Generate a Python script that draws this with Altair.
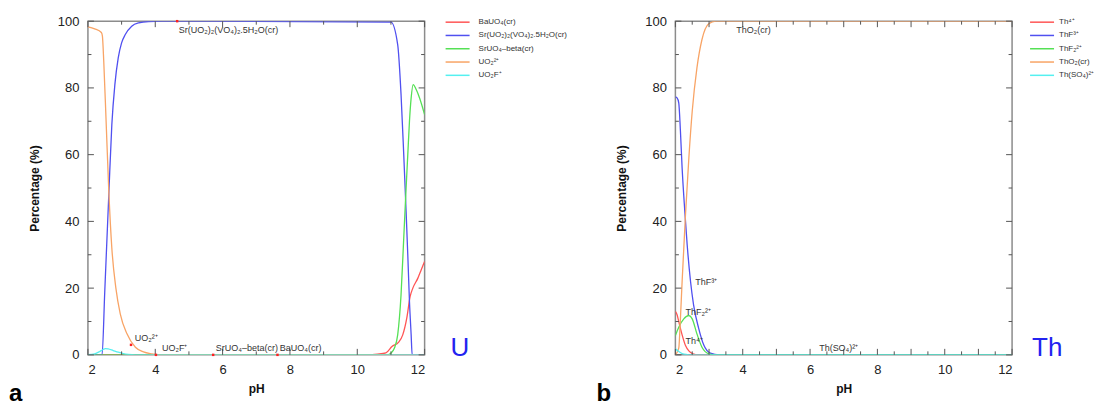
import altair as alt
import pandas as pd

FONT = "Liberation Sans"
W, H = 337, 334

# ---------------- Panel a : U ----------------
a_species = ["BaUO₄(cr)", "Sr(UO₂)₂(VO₄)₂.5H₂O(cr)", "SrUO₄–beta(cr)", "UO₂²⁺", "UO₂F⁺"]
a_colors = ["#ff5555", "#5050f0", "#55e055", "#f8a466", "#55f0f0"]

a_ph_ba = [2.0, 10.3, 10.6, 10.85, 11.03, 11.23, 11.35, 11.47, 11.57, 11.65, 11.8, 11.9, 12.0]
a_val_ba = [0, 0, 0.2, 0.6, 2.5, 3.8, 6.0, 11.0, 17.5, 20.0, 23.0, 25.5, 28.0]

a_ph_sr = [2.0, 2.42, 2.5, 2.62, 2.71, 2.8, 2.9, 3.0, 3.11, 3.3, 3.51, 3.8, 4.2, 11.0, 11.2, 11.3,
           11.38, 11.45, 11.5, 11.55, 11.6, 11.63, 12.0]
a_val_sr = [0, 0, 19, 48, 69, 81, 89, 93.5, 96, 98.5, 99.5, 99.9, 100, 99.7, 93, 78,
            60, 43, 30, 16, 6, 0, 0]

a_ph_sruo4 = [2.0, 10.9, 11.0, 11.1, 11.2, 11.3, 11.38, 11.45, 11.5, 11.55, 11.6, 11.66, 11.75, 11.85, 12.0]
a_val_sruo4 = [0, 0, 0.5, 2, 6, 18, 35, 50, 60, 70, 77, 81, 79.5, 77, 72]

a_ph_uo2 = [2.0, 2.2, 2.4, 2.43, 2.47, 2.54, 2.62, 2.71, 2.83, 2.96, 3.16, 3.41, 3.65, 3.9, 4.1, 12.0]
a_val_uo2 = [98.3, 97.7, 96.6, 95.5, 88, 70, 49, 32, 20, 12.3, 6.3, 2.3, 0.9, 0.3, 0, 0]

a_ph_uo2f = [2.0, 2.2, 2.35, 2.45, 2.52, 2.6, 2.75, 2.9, 3.05, 3.2, 3.4, 12.0]
a_val_uo2f = [0.05, 0.3, 1.0, 1.6, 1.9, 1.8, 1.3, 0.8, 0.4, 0.15, 0, 0]

a_lab_text = ["Sr(UO₂)₂(VO₄)₂.5H₂O(cr)", "UO₂²⁺", "UO₂F⁺", "SrUO₄–beta(cr)", "BaUO₄(cr)"]
a_lab_ph = [4.70, 3.39, 4.20, 5.80, 7.70]
a_lab_pct = [97.3, 5.2, 2.2, 2.2, 2.2]
a_dot_ph = [4.65, 3.28, 4.02, 5.72, 7.63]
a_dot_pct = [100, 3, 0, 0, 0]

a_xmajor = [2, 4, 6, 8, 10, 12]
a_xminor = [3, 5, 7, 9, 11]

# ---------------- Panel b : Th ----------------
b_species = ["Th⁴⁺", "ThF³⁺", "ThF₂²⁺", "ThO₂(cr)", "Th(SO₄)²⁺"]
b_colors = ["#ff5555", "#5050f0", "#55e055", "#f8a466", "#55f0f0"]

b_ph_th = [2.0, 2.05, 2.1, 2.2, 2.3, 2.4, 2.5, 2.6, 2.8, 12.0]
b_val_th = [13, 12, 10, 6, 2.8, 1.2, 0.4, 0.1, 0, 0]

b_ph_thf = [2.0, 2.05, 2.1, 2.15, 2.2, 2.28, 2.35, 2.45, 2.54, 2.69, 2.84, 3.04, 3.3, 12.0]
b_val_thf = [77.3, 77, 75.5, 67, 56, 43, 33, 22, 15, 8, 3, 0.5, 0, 0]

b_ph_thf2 = [2.0, 2.1, 2.25, 2.4, 2.5, 2.64, 2.79, 3.0, 3.2, 12.0]
b_val_thf2 = [5.8, 8.3, 10.8, 11.8, 10.8, 6.3, 2.3, 0.3, 0, 0]

b_ph_tho2 = [2.0, 2.1, 2.15, 2.2, 2.25, 2.3, 2.4, 2.5, 2.64, 2.79, 2.99, 3.2, 12.0]
b_val_tho2 = [0, 2, 11, 22, 32, 42, 59, 73, 86, 94.5, 99.2, 100, 100]

b_ph_thso4 = [2.0, 2.1, 2.2, 2.35, 2.5, 12.0]
b_val_thso4 = [1.8, 1.0, 0.4, 0.1, 0, 0]

b_lab_text = ["ThO₂(cr)", "ThF³⁺", "ThF₂²⁺", "Th⁴⁺", "Th(SO₄)²⁺"]
b_lab_ph = [3.81, 2.59, 2.30, 2.30, 6.27]
b_lab_pct = [97.3, 21.8, 12.8, 4.2, 2.2]

b_xmajor = [2, 3, 4, 5, 6, 7, 8, 9, 10, 11, 12]
b_xminor = [2.5, 3.5, 4.5, 5.5, 6.5, 7.5, 8.5, 9.5, 10.5, 11.5]

y_major = [0, 20, 40, 60, 80, 100]
y_minor = [10, 30, 50, 70, 90]

X0, X1, Y0, Y1 = 2, 12, 0, 100
MAJ_PX, MIN_PX = 6, 3.5
SYM = 144  # legend symbol size (sqrt = 12 px), path spans 2x that


def long_df(species, phs, vals):
    rows = []
    for i, (s, p, v) in enumerate(zip(species, phs, vals)):
        for x, y in zip(p, v):
            rows.append({"species": s, "pH": x, "pct": y, "ord": i})
    return pd.DataFrame(rows)


def tick_frames(xmajor, xminor):
    """Inside tick segments on all four sides (lengths converted from px to data units)."""
    xr = (X1 - X0) / W
    yr = (Y1 - Y0) / H
    rows = []
    for vals, L in ((xmajor, MAJ_PX), (xminor, MIN_PX)):
        for t in vals:
            rows.append({"x": t, "x2": t, "y": Y0, "y2": Y0 + L * yr})
            rows.append({"x": t, "x2": t, "y": Y1, "y2": Y1 - L * yr})
    for vals, L in ((y_major, MAJ_PX), (y_minor, MIN_PX)):
        for t in vals:
            rows.append({"x": X0, "x2": X0 + L * xr, "y": t, "y2": t})
            rows.append({"x": X1, "x2": X1 - L * xr, "y": t, "y2": t})
    return pd.DataFrame(rows)


def panel(df, species, colors, xmajor, xminor, lab_text, lab_ph, lab_pct,
          dot_ph, dot_pct, elem, elem_dx, tag, sym_dx, lab_off):
    xs = alt.Scale(domain=[X0, X1], nice=False, zero=False)
    ys = alt.Scale(domain=[Y0, Y1], nice=False, zero=False)
    lines = alt.Chart(df).mark_line(strokeWidth=1.3, interpolate="monotone", clip=True).encode(
        x=alt.X("pH:Q", scale=xs, title="pH",
                axis=alt.Axis(values=xmajor, format="d", labelPadding=9, titlePadding=7)),
        y=alt.Y("pct:Q", scale=ys, title="Percentage (%)",
                axis=alt.Axis(values=y_major, labelPadding=9, titlePadding=16)),
        color=alt.Color("species:N", scale=alt.Scale(domain=species, range=colors),
                        legend=alt.Legend(title=None, orient="none", legendX=W + sym_dx + 6,
                                          legendY=-6, labelOffset=lab_off)),
        order=alt.Order("ord:Q"),
    )
    ticks = alt.Chart(tick_frames(xmajor, xminor)).mark_rule(color="#555555", strokeWidth=1).encode(
        x=alt.X("x:Q", scale=xs), x2="x2:Q", y=alt.Y("y:Q", scale=ys), y2="y2:Q")
    layers = [lines, ticks]

    # annotations
    ldf = pd.DataFrame({"text": lab_text, "pH": lab_ph, "pct": lab_pct})
    layers.append(alt.Chart(ldf).mark_text(align="left", baseline="middle", font=FONT,
                                           fontSize=9, color="#333333").encode(
        x=alt.X("pH:Q", scale=xs), y=alt.Y("pct:Q", scale=ys), text="text:N"))
    if dot_ph:
        ddf = pd.DataFrame({"pH": dot_ph, "pct": dot_pct})
        layers.append(alt.Chart(ddf).mark_point(filled=True, shape="square", size=6,
                                                color="#ff2020", opacity=1).encode(
            x=alt.X("pH:Q", scale=xs), y=alt.Y("pct:Q", scale=ys)))

    edf = pd.DataFrame({"text": [elem]})
    layers.append(alt.Chart(edf).mark_text(align="left", baseline="alphabetic", font=FONT,
                                           fontSize=26, color="#2323f0").encode(
        x=alt.value(W + elem_dx), y=alt.value(H + 1), text="text:N"))
    tdf = pd.DataFrame({"text": [tag]})
    layers.append(alt.Chart(tdf).mark_text(align="left", baseline="alphabetic", font=FONT,
                                           fontSize=24, fontWeight="bold", color="#000000").encode(
        x=alt.value(-79), y=alt.value(H + 46), text="text:N"))

    return alt.layer(*layers).properties(width=W, height=H)


a_df = long_df(a_species, [a_ph_ba, a_ph_sr, a_ph_sruo4, a_ph_uo2, a_ph_uo2f],
               [a_val_ba, a_val_sr, a_val_sruo4, a_val_uo2, a_val_uo2f])
b_df = long_df(b_species, [b_ph_th, b_ph_thf, b_ph_thf2, b_ph_tho2, b_ph_thso4],
               [b_val_th, b_val_thf, b_val_thf2, b_val_tho2, b_val_thso4])

pa = panel(a_df, a_species, a_colors, a_xmajor, a_xminor, a_lab_text, a_lab_ph, a_lab_pct,
           a_dot_ph, a_dot_pct, "U", 26, "a", 20, 14)
pb = panel(b_df, b_species, b_colors, b_xmajor, b_xminor, b_lab_text, b_lab_ph, b_lab_pct,
           [], [], "Th", 20, "b", 17, 10)

chart = alt.hconcat(pa, pb, spacing=27).resolve_scale(
    x="independent", y="independent", color="independent"
).resolve_legend(color="independent").properties(
    padding={"left": 0, "top": 6, "right": 0, "bottom": 0},
    background="white",
).configure_view(
    stroke="#8c8c8c", strokeWidth=1.5
).configure_axis(
    labelFont=FONT, labelFontSize=13, labelColor="#222222",
    titleFont=FONT, titleFontSize=12, titleFontWeight="bold", titleColor="#111111",
    ticks=False, domain=False, grid=False,
).configure_legend(
    labelFont=FONT, labelFontSize=8, labelColor="#333333",
    symbolType="M-2,0H2", symbolSize=SYM, symbolStrokeWidth=1.5,
    rowPadding=2.3, padding=0,
)

chart.save("out.html", embed_options={"renderer": "svg", "actions": False})
